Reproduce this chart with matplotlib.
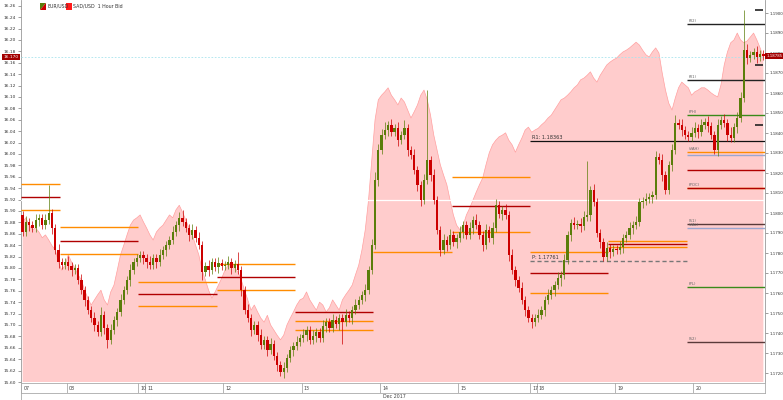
import matplotlib
matplotlib.use("Agg")
import matplotlib.pyplot as plt
import numpy as np
from matplotlib.patches import Rectangle, Polygon

plt.rcParams['font.family'] = ['DejaVu Sans']

# ---------------- data ----------------
day_labels = ['07', '08', '10', '11', '12', '13', '14', '15', '17', '18', '19', '20']
day_counts = [14, 22, 2, 24, 24, 24, 24, 22, 2, 24, 24, 22]
session_edges = [-0.5, 11.5, 35.5, 59.5, 83.5, 107.5, 131.5, 155.5, 179.5, 203.5, 227.5]

eurusd_open0 = 1.17990
eurusd_close = [
    # Dec 7
    1.17905, 1.17955, 1.17940, 1.17925, 1.17965, 1.17975, 1.17940, 1.17965, 1.18000, 1.17925,
    1.17815, 1.17755, 1.17740, 1.17755,
    # Dec 8
    1.17735, 1.17715, 1.17725, 1.17665, 1.17615, 1.17565, 1.17515, 1.17475, 1.17440, 1.17405,
    1.17490, 1.17425, 1.17365, 1.17415, 1.17465, 1.17505, 1.17565, 1.17615, 1.17665, 1.17715,
    1.17755, 1.17775,
    # Dec 10
    1.17790, 1.17775,
    # Dec 11
    1.17755, 1.17740, 1.17775, 1.17755, 1.17790, 1.17815, 1.17840, 1.17865, 1.17905, 1.17940,
    1.17975, 1.17955, 1.17925, 1.17890, 1.17915, 1.17875, 1.17840, 1.17705, 1.17735, 1.17715,
    1.17755, 1.17730, 1.17750, 1.17735,
    # Dec 12
    1.17740, 1.17755, 1.17725, 1.17745, 1.17715, 1.17615, 1.17515, 1.17475, 1.17415, 1.17440,
    1.17390, 1.17340, 1.17365, 1.17315, 1.17345, 1.17285, 1.17240, 1.17205, 1.17225, 1.17275,
    1.17315, 1.17335, 1.17355, 1.17375,
    # Dec 13
    1.17390, 1.17415, 1.17365, 1.17385, 1.17405, 1.17375, 1.17435, 1.17455, 1.17425, 1.17465,
    1.17445, 1.17475, 1.17455, 1.17490, 1.17475, 1.17515, 1.17540, 1.17565, 1.17590, 1.17615,
    1.17715, 1.17840, 1.18165, 1.18315,
    # Dec 14
    1.18390, 1.18415, 1.18440, 1.18405, 1.18425, 1.18365, 1.18390, 1.18425, 1.18315, 1.18290,
    1.18215, 1.18140, 1.18065, 1.18165, 1.18265, 1.18190, 1.18065, 1.17915, 1.17815, 1.17865,
    1.17840, 1.17890, 1.17855, 1.17875,
    # Dec 15
    1.17905, 1.17940, 1.17890, 1.17925, 1.17965, 1.17940, 1.17890, 1.17840, 1.17915, 1.17875,
    1.17925, 1.18040, 1.17995, 1.18015, 1.17990, 1.17790, 1.17715, 1.17665, 1.17625, 1.17565,
    1.17515, 1.17475,
    # Dec 17
    1.17455, 1.17475,
    # Dec 18
    1.17490, 1.17515, 1.17565, 1.17590, 1.17615, 1.17640, 1.17675, 1.17690, 1.17765, 1.17890,
    1.17950, 1.17940, 1.17945, 1.17935, 1.17980, 1.17990, 1.18115, 1.18055, 1.17900, 1.17855,
    1.17780, 1.17825, 1.17805, 1.17820,
    # Dec 19
    1.17815, 1.17830, 1.17875, 1.17890, 1.17925, 1.17940, 1.17955, 1.18055, 1.18060, 1.18070,
    1.18080, 1.18090, 1.18280, 1.18265, 1.18190, 1.18115, 1.18240, 1.18315, 1.18450, 1.18440,
    1.18415, 1.18390, 1.18380, 1.18400,
    # Dec 20
    1.18425, 1.18405, 1.18440, 1.18455, 1.18435, 1.18390, 1.18315, 1.18440, 1.18465, 1.18450,
    1.18390, 1.18375, 1.18430, 1.18475, 1.18575, 1.18815, 1.18775, 1.18790, 1.18805, 1.18780,
    1.18795, 1.18785,
]
wick_up_pips = [
    2, 3, 2, 2, 3, 2, 2, 3, 14, 2, 2, 3, 2, 2,
    3, 2, 2, 2, 3, 2, 2, 2, 3, 2, 4, 2, 2, 3, 2, 2, 3, 2, 2, 3, 2, 2,
    2, 2,
    2, 3, 2, 2, 3, 2, 2, 2, 3, 2, 3, 4, 2, 2, 3, 2, 3, 2, 2, 3, 2, 2, 3, 2,
    2, 3, 2, 2, 6, 2, 2, 3, 2, 2, 2, 3, 2, 2, 3, 2, 2, 2, 3, 2, 2, 2, 3, 2,
    3, 2, 2, 3, 2, 2, 3, 2, 2, 3, 2, 2, 2, 3, 2, 2, 3, 2, 2, 3, 2, 3, 4, 3,
    3, 4, 2, 3, 2, 3, 2, 4, 2, 2, 3, 2, 2, 3, 35, 2, 3, 2, 2, 3, 2, 3, 2, 2,
    3, 2, 2, 3, 2, 3, 2, 2, 3, 2, 3, 3, 2, 2, 3, 2, 3, 2, 2, 3, 2, 2,
    2, 2,
    3, 2, 2, 3, 2, 2, 3, 2, 3, 2, 2, 3, 2, 3, 3, 27, 2, 3, 2, 2, 2, 3, 2, 2,
    2, 3, 2, 2, 3, 2, 3, 2, 2, 3, 2, 2, 3, 2, 3, 2, 2, 3, 4, 2, 3, 2, 2, 3,
    3, 2, 3, 2, 3, 2, 2, 3, 2, 3, 2, 4, 2, 3, 3, 20, 3, 2, 2, 3, 2, 2,
]
wick_dn_pips = [
    2, 2, 3, 2, 2, 3, 2, 2, 2, 3, 2, 3, 2, 2,
    2, 3, 2, 2, 2, 3, 2, 2, 3, 2, 2, 3, 4, 2, 2, 3, 2, 2, 2, 3, 2, 2,
    2, 3,
    3, 2, 2, 3, 2, 2, 3, 2, 2, 2, 3, 2, 2, 3, 2, 2, 2, 4, 2, 3, 2, 2, 3, 2,
    2, 2, 3, 2, 2, 3, 2, 2, 3, 2, 3, 2, 2, 3, 2, 2, 3, 2, 3, 2, 2, 3, 2, 2,
    2, 3, 2, 2, 3, 2, 2, 3, 2, 2, 2, 3, 11, 2, 2, 3, 2, 2, 2, 3, 2, 2, 2, 3,
    2, 2, 3, 2, 2, 3, 2, 2, 3, 2, 2, 3, 3, 2, 2, 3, 2, 2, 3, 2, 3, 2, 2, 3,
    2, 3, 2, 2, 3, 2, 2, 3, 2, 2, 3, 2, 2, 3, 2, 3, 2, 3, 2, 2, 3, 2,
    3, 2,
    2, 2, 3, 2, 2, 3, 2, 4, 2, 2, 3, 2, 2, 3, 2, 2, 3, 2, 2, 3, 2, 2, 3, 2,
    2, 2, 3, 2, 2, 3, 2, 2, 3, 2, 2, 3, 2, 2, 3, 2, 2, 3, 2, 2, 3, 2, 2, 2,
    2, 3, 2, 2, 3, 2, 2, 3, 2, 2, 3, 2, 2, 3, 2, 2, 3, 2, 2, 3, 2, 2,
]
pink_bid = [
    # Dec 7
    15.881, 15.888, 15.875, 15.867, 15.870, 15.863, 15.853, 15.858, 15.849, 15.839,
    15.832, 15.810, 15.796, 15.805,
    # Dec 8
    15.823, 15.810, 15.800, 15.788, 15.779, 15.761, 15.747, 15.735, 15.744, 15.753,
    15.761, 15.744, 15.735, 15.758, 15.770, 15.796, 15.823, 15.840, 15.858, 15.875,
    15.884, 15.888,
    # Dec 10
    15.893, 15.881,
    # Dec 11
    15.870, 15.858, 15.849, 15.863, 15.870, 15.875, 15.884, 15.893, 15.888, 15.902,
    15.910, 15.898, 15.884, 15.870, 15.858, 15.840, 15.823, 15.796, 15.779, 15.761,
    15.747, 15.758, 15.770, 15.782,
    # Dec 12
    15.796, 15.805, 15.810, 15.800, 15.793, 15.779, 15.761, 15.744, 15.726, 15.735,
    15.723, 15.712, 15.705, 15.717, 15.700, 15.691, 15.682, 15.674, 15.682, 15.700,
    15.712, 15.723, 15.735, 15.744,
    # Dec 13
    15.747, 15.758, 15.744, 15.735, 15.726, 15.740, 15.735, 15.723, 15.730, 15.744,
    15.735, 15.726, 15.744, 15.753, 15.761, 15.770, 15.788, 15.805, 15.832, 15.867,
    15.919, 15.989, 16.060, 16.095,
    # Dec 14
    16.103, 16.109, 16.116, 16.103, 16.095, 16.086, 16.098, 16.091, 16.077, 16.063,
    16.074, 16.086, 16.103, 16.112, 16.095, 16.068, 16.033, 16.007, 15.981, 15.963,
    15.946, 15.919, 15.893, 15.875,
    # Dec 15
    15.867, 15.875, 15.893, 15.905, 15.919, 15.933, 15.946, 15.958, 15.981, 16.002,
    16.016, 16.024, 16.030, 16.033, 16.037, 16.024, 16.016, 16.003, 16.016, 16.028,
    16.042, 16.047,
    # Dec 17
    16.038, 16.042,
    # Dec 18
    16.045, 16.051, 16.056, 16.063, 16.068, 16.077, 16.086, 16.095, 16.098, 16.103,
    16.109, 16.116, 16.121, 16.130, 16.133, 16.138, 16.144, 16.133, 16.126, 16.138,
    16.147, 16.156, 16.161, 16.165,
    # Dec 19
    16.168, 16.174, 16.179, 16.182, 16.186, 16.191, 16.196, 16.191, 16.182, 16.174,
    16.170, 16.179, 16.186, 16.177, 16.142, 16.112, 16.089, 16.077, 16.098, 16.116,
    16.126, 16.121, 16.116, 16.103,
    # Dec 20
    16.109, 16.112, 16.116, 16.116, 16.112, 16.107, 16.103, 16.100, 16.121, 16.156,
    16.179, 16.195, 16.200, 16.212, 16.200, 16.195, 16.198, 16.205, 16.212, 16.200,
    16.186, 16.170,
]

# daily pivot levels per session: (session index, price, kind)
session_levels = [
    (0, 1.18145, 'hi'), (0, 1.18080, 'mid'), (0, 1.18015, 'hi'),
    (1, 1.17930, 'hi'), (1, 1.17860, 'mid'), (1, 1.17795, 'hi'),
    (2, 1.17655, 'hi'), (2, 1.17595, 'mid'), (2, 1.17535, 'hi'),
    (3, 1.17745, 'hi'), (3, 1.17680, 'mid'), (3, 1.17615, 'hi'),
    (4, 1.17505, 'mid'), (4, 1.17460, 'hi'), (4, 1.17415, 'hi'),
    (5, 1.17805, 'hi'),
    (6, 1.18180, 'hi'), (6, 1.18035, 'mid'), (6, 1.17905, 'hi'),
    (7, 1.17805, 'hi'), (7, 1.17700, 'mid'), (7, 1.17600, 'hi'),
    (8, 1.17862, 'hi'), (8, 1.17845, 'mid'), (8, 1.17829, 'hi'),
]
last_levels = [1.18945, 1.18665, 1.18490, 1.18305, 1.18290, 1.18215, 1.18125, 1.18125,
               1.17945, 1.17925, 1.17630, 1.17355]
last_level_names = ['(R2)', '(R1)', '(PH)', '(VAH)', '', '', '(POC)', '', '(S1)', '(VAL)', '(PL)', '(S2)']
last_level_kinds = ['blk', 'blk', 'grn', 'hi', 'blu', 'mid', 'hi', 'mid', 'brn', 'blu', 'grn', 'brn']
recent_marks = [1.19015, 1.18740, 1.18440]
r1_level = 1.18360
r1_text = 'R1: 1.18363'
p_level = 1.17761
p_text = 'P: 1.17761'
white_level = 1.18065

left_ticks = np.round(np.arange(15.60, 16.2601, 0.02), 2)
right_ticks = np.round(np.arange(1.1720, 1.19001, 0.001), 4)

# ---------------- styles ----------------
GREEN = '#5a7d0a'
RED = '#cc0000'
kind_color = {'hi': '#ff8c00', 'mid': '#b00000', 'blk': '#222222', 'grn': '#3a8a1a',
              'blu': '#9aa6d0', 'brn': '#5a3a3a'}

fig = plt.figure(figsize=(7.83, 4.0), dpi=100)
fig.patch.set_facecolor('white')
L, R_, T, B = 21, 765, 0, 382
ax = fig.add_axes([L / 783, 1 - B / 400, (R_ - L) / 783, (B - T) / 400])
n = len(eurusd_close)
x = np.arange(n)
ax.set_xlim(-0.5, n - 0.5)
ax.set_ylim(15.60, 16.27)

pink = np.array(pink_bid)
ax.fill_between(x, 15.0, pink, color='#ffcccc', lw=0, zorder=1)
ax.plot(x, pink, color='#ffa0a0', lw=0.5, zorder=2)
ax.axhline(pink[-1], color='#a8e4ee', lw=0.6, ls=(0, (2, 2)), zorder=3)

ax.set_yticks(left_ticks)
ax.set_yticklabels([f'{v:.2f}' for v in left_ticks])
ax.set_xticks([])
ax.tick_params(axis='y', labelsize=3.2, length=2, width=0.5, pad=1.5, colors='#777', labelcolor='#333')
for s in ['top', 'right', 'bottom']:
    ax.spines[s].set_visible(False)
ax.spines['left'].set_color('#999')
ax.spines['left'].set_linewidth(0.6)

ax2 = ax.twinx()
ax2.set_ylim(1.17155, 1.19065)
ax2.set_xlim(-0.5, n - 0.5)
ax2.set_yticks(right_ticks)
ax2.set_yticklabels([f'{v:.4f}' for v in right_ticks])
ax2.tick_params(axis='y', labelsize=2.9, length=2, width=0.5, pad=1.0, colors='#777', labelcolor='#333')
for s in ['top', 'left', 'bottom']:
    ax2.spines[s].set_visible(False)
ax2.spines['right'].set_color('#999')
ax2.spines['right'].set_linewidth(0.6)

ax2.axhline(white_level, color='white', lw=0.9, zorder=1)

# session lines
for si, price, kind in session_levels:
    ax2.hlines(price, session_edges[si], session_edges[si + 1], color=kind_color[kind], lw=1.0, zorder=2)
s0, s1 = session_edges[-2], session_edges[-1]
for price, name, kind in zip(last_levels, last_level_names, last_level_kinds):
    ax2.hlines(price, s0, s1, color=kind_color[kind], lw=1.0, zorder=2)
    if name:
        ax2.text(s0 + 0.6, price + 0.00004, name, fontsize=2.8, color='#666', ha='left', va='bottom', zorder=3)
ax2.hlines(recent_marks, 224.3, 226.8, color='#222', lw=1.2, zorder=2)
ax2.hlines(r1_level, session_edges[7], session_edges[10], color='#111', lw=0.9, zorder=2)
ax2.text(session_edges[7] + 0.6, r1_level + 0.00005, r1_text, fontsize=3.6, color='#333', ha='left', va='bottom')
ax2.hlines(p_level, session_edges[7], session_edges[9], color='#777', lw=1.0, ls=(0, (3, 2)), zorder=2)
ax2.text(session_edges[7] + 0.6, p_level + 0.00005, p_text, fontsize=3.6, color='#333', ha='left', va='bottom')

# candles
c = np.array(eurusd_close)
o = np.r_[eurusd_open0, c[:-1]]
hi = np.maximum(o, c) + np.array(wick_up_pips) * 0.0001
lo = np.minimum(o, c) - np.array(wick_dn_pips) * 0.0001
cols = np.where(c >= o, GREEN, RED)
ax2.vlines(x, lo, hi, colors=cols, lw=0.5, zorder=4)
h = c - o
h = np.where(np.abs(h) < 0.00003, 0.00003, h)
ax2.bar(x, h, bottom=o, width=0.72, color=cols, lw=0, zorder=5)

# current value labels
ax.annotate(f'{pink[-1]:.3f}', xy=(0, pink[-1]), xycoords=('axes fraction', 'data'),
            xytext=(-1.5, 0), textcoords='offset points', ha='right', va='center',
            fontsize=3.2, color='white',
            bbox=dict(boxstyle='square,pad=0.3', fc='#a30000', ec='none'))
ax2.annotate(f'{c[-1]:.5f}', xy=(1, c[-1]), xycoords=('axes fraction', 'data'),
             xytext=(0.8, 0), textcoords='offset points', ha='left', va='center',
             fontsize=2.8, color='white',
             bbox=dict(boxstyle='square,pad=0.25', fc='#a30000', ec='none'))

# date band
bax = fig.add_axes([L / 783, 7 / 400, (R_ - L) / 783, 10 / 400])
bax.set_xlim(-0.5, n - 0.5)
bax.set_ylim(0, 1)
bax.set_xticks([])
bax.set_yticks([])
for s in bax.spines.values():
    s.set_color('#aaa')
    s.set_linewidth(0.6)
starts = np.cumsum([0] + day_counts[:-1]) - 0.5
for st, lab in zip(starts, day_labels):
    bax.axvline(st, color='#aaa', lw=0.6)
    bax.text(st + 0.7, 0.45, lab, fontsize=3.4, color='#444', ha='left', va='center')
fig.text(383 / 783, 1 - 397 / 400, 'Dec 2017', fontsize=3.4, color='#444', ha='left', va='center')
fig.add_artist(plt.Line2D([L / 783, L / 783], [0, 7 / 400], color='#aaa', lw=0.6))

# legend
def fx(px):
    return px / 783
def fy(py):
    return 1 - py / 400
fig.add_artist(Polygon([(fx(40), fy(3)), (fx(46), fy(3)), (fx(40), fy(10))], closed=True,
                       transform=fig.transFigure, fc=GREEN, ec='none'))
fig.add_artist(Polygon([(fx(46), fy(3)), (fx(46), fy(10)), (fx(40), fy(10))], closed=True,
                       transform=fig.transFigure, fc=RED, ec='none'))
fig.text(fx(47), fy(6.5), 'EUR/USD', fontsize=3.4, color='#333', ha='left', va='center')
fig.add_artist(Rectangle((fx(66), fy(10)), 6 / 783, 7 / 400, transform=fig.transFigure,
                         fc='#ff1a1a', ec='none'))
fig.text(fx(73), fy(6.5), 'SAD/USD  1 Hour Bid', fontsize=3.4, color='#333', ha='left', va='center')

fig.savefig('out.png', dpi=100)
